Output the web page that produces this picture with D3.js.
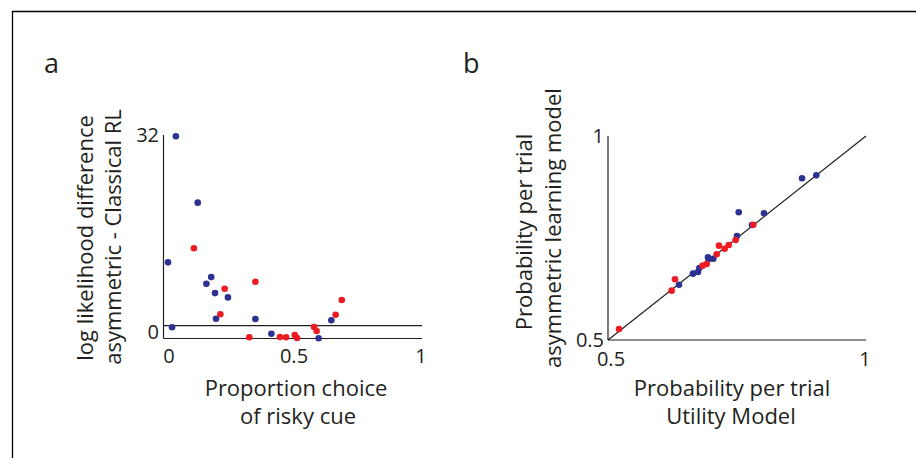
<!DOCTYPE html>
<html>
<head>
<meta charset="utf-8">
<script src="https://cdn.jsdelivr.net/npm/d3@7"></script>
<style>
  html, body { margin: 0; padding: 0; background: #fff; }
  svg { display: block; }
  text { font-family: "Open Sans", "Noto Sans", sans-serif; fill: #231f20; }
</style>
</head>
<body>
<svg id="chart" width="916" height="458"></svg>
<script>
// ---------- Panel a data ----------
const aBlueX = [0.035, 0.121, 0.004, 0.174, 0.155, 0.189, 0.240, 0.193, 0.348, 0.020, 0.411, 0.597, 0.647];
const aBlueY = [31.8, 21.0, 11.3, 8.9, 7.8, 6.3, 5.6, 2.14, 2.09, 0.74, -0.30, -1.05, 1.88];
const aRedX  = [0.106, 0.227, 0.348, 0.210, 0.324, 0.445, 0.469, 0.503, 0.512, 0.579, 0.589, 0.664, 0.688];
const aRedY  = [13.6, 7.0, 8.15, 2.85, -0.89, -0.84, -0.89, -0.51, -1.0, 0.79, 0.14, 2.79, 5.18];
const aXTicks = [0, 0.5, 1];
const aYTicks = [0, 32];
const aThreshold = 1;

// ---------- Panel b data ----------
const bBlueX = [0.6376, 0.6647, 0.6744, 0.6770, 0.6938, 0.6950, 0.7041, 0.7500, 0.7533, 0.7790, 0.8023, 0.8760, 0.9037];
const bBlueY = [0.6356, 0.6626, 0.6667, 0.6765, 0.7026, 0.6977, 0.6993, 0.7549, 0.8130, 0.7819, 0.8105, 0.8963, 0.9036];
const bRedX  = [0.5213, 0.6234, 0.6298, 0.6835, 0.6912, 0.7106, 0.7151, 0.7261, 0.7339, 0.7474, 0.7816];
const bRedY  = [0.5270, 0.6209, 0.6488, 0.6822, 0.6863, 0.7100, 0.7312, 0.7238, 0.7328, 0.7451, 0.7826];
const bTicks = [0.5, 1];

const BLUE = "#2e3192", RED = "#ed1c24", INK = "#231f20";
const R = 3.3;
const TICK_FS = 20, TITLE_FS = 22, LETTER_FS = 27;

const svg = d3.select("#chart");

// frame
svg.append("path").attr("d", "M12.5,458 V11.5 H916").attr("fill", "none").attr("stroke", "#000").attr("stroke-width", 1.3);

// ---------- Panel a ----------
const ax = d3.scaleLinear().domain([0, 1]).range([167, 421]);
const ay = d3.scaleLinear().domain([-1, 32]).range([338, 135]);
const ga = svg.append("g");

ga.append("line").attr("x1", 163.5).attr("x2", 163.5).attr("y1", ay(32)).attr("y2", 338.5)
  .attr("stroke", INK).attr("stroke-width", 1.2);
ga.append("line").attr("x1", 163.5).attr("x2", 422).attr("y1", 338.5).attr("y2", 338.5)
  .attr("stroke", INK).attr("stroke-width", 1.2);
ga.append("line").attr("x1", 163.5).attr("x2", 422).attr("y1", ay(aThreshold)).attr("y2", ay(aThreshold))
  .attr("stroke", INK).attr("stroke-width", 1.2);

ga.selectAll(".axt").data(aXTicks).enter().append("text")
  .attr("x", d => ax(d) + (d === 0 ? 2 : 0)).attr("y", 363).attr("text-anchor", "middle")
  .attr("font-size", TICK_FS).text(d => d);
ga.selectAll(".ayt").data(aYTicks).enter().append("text")
  .attr("x", 159).attr("y", d => ay(d) + 7).attr("text-anchor", "end")
  .attr("font-size", TICK_FS).text(d => d);

ga.selectAll(".ab").data(d3.zip(aBlueX, aBlueY)).enter().append("circle")
  .attr("cx", d => ax(d[0])).attr("cy", d => ay(d[1])).attr("r", R).attr("fill", BLUE);
ga.selectAll(".ar").data(d3.zip(aRedX, aRedY)).enter().append("circle")
  .attr("cx", d => ax(d[0])).attr("cy", d => ay(d[1])).attr("r", R).attr("fill", RED);

ga.append("text").attr("x", 296).attr("y", 396).attr("text-anchor", "middle").attr("font-size", TITLE_FS).text("Proportion choice");
ga.append("text").attr("x", 298).attr("y", 424).attr("text-anchor", "middle").attr("font-size", TITLE_FS).text("of risky cue");
ga.append("text").attr("transform", "translate(93,238) rotate(-90)").attr("text-anchor", "middle").attr("font-size", TITLE_FS).text("log likelihood difference");
ga.append("text").attr("transform", "translate(121,237) rotate(-90)").attr("text-anchor", "middle").attr("font-size", TITLE_FS).text("asymmetric - Classical RL");
ga.append("text").attr("x", 44).attr("y", 73).attr("font-size", LETTER_FS).text("a");

// ---------- Panel b ----------
const bx = d3.scaleLinear().domain([0.5, 1]).range([608, 866]);
const by = d3.scaleLinear().domain([0.5, 1]).range([340, 136]);
const gb = svg.append("g");

gb.append("line").attr("x1", 608).attr("x2", 608).attr("y1", by(1)).attr("y2", by(0.5))
  .attr("stroke", INK).attr("stroke-width", 1.2);
gb.append("line").attr("x1", 608).attr("x2", 866).attr("y1", by(0.5)).attr("y2", by(0.5))
  .attr("stroke", INK).attr("stroke-width", 1.2);
gb.append("line").attr("x1", bx(0.5)).attr("y1", by(0.5)).attr("x2", bx(1)).attr("y2", by(1))
  .attr("stroke", INK).attr("stroke-width", 1.2);

gb.selectAll(".bxt").data(bTicks).enter().append("text")
  .attr("x", d => bx(d) + (d === 0.5 ? 3 : -1)).attr("y", 366).attr("text-anchor", "middle")
  .attr("font-size", TICK_FS).text(d => d);
gb.selectAll(".byt").data(bTicks).enter().append("text")
  .attr("x", 604).attr("y", d => by(d) + 7).attr("text-anchor", "end")
  .attr("font-size", TICK_FS).text(d => d);

gb.selectAll(".bb").data(d3.zip(bBlueX, bBlueY)).enter().append("circle")
  .attr("cx", d => bx(d[0])).attr("cy", d => by(d[1])).attr("r", R).attr("fill", BLUE);
gb.selectAll(".br").data(d3.zip(bRedX, bRedY)).enter().append("circle")
  .attr("cx", d => bx(d[0])).attr("cy", d => by(d[1])).attr("r", R).attr("fill", RED);

gb.append("text").attr("x", 732).attr("y", 396).attr("text-anchor", "middle").attr("font-size", TITLE_FS).text("Probability per trial");
gb.append("text").attr("x", 731).attr("y", 424).attr("text-anchor", "middle").attr("font-size", TITLE_FS).text("Utility Model");
gb.append("text").attr("transform", "translate(532,232) rotate(-90)").attr("text-anchor", "middle").attr("font-size", TITLE_FS).text("Probability per trial");
gb.append("text").attr("transform", "translate(561,228) rotate(-90)").attr("text-anchor", "middle").attr("font-size", TITLE_FS).text("asymmetric learning model");
gb.append("text").attr("x", 463).attr("y", 73).attr("font-size", LETTER_FS).text("b");
</script>
</body>
</html>
